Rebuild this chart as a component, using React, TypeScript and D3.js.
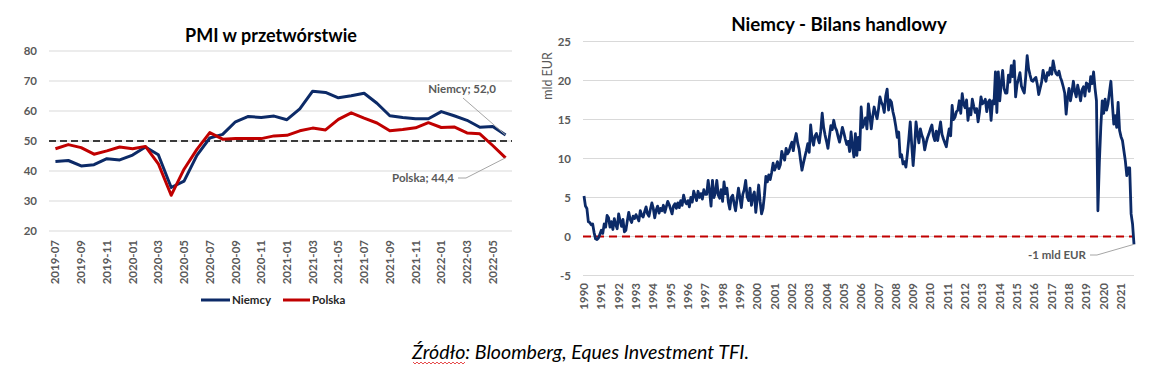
import React from "react";
import * as d3 from "d3";

// ---------- Left chart: PMI w przetwórstwie ----------
const pmiMonths = [
  "2019-07", "2019-08", "2019-09", "2019-10", "2019-11", "2019-12",
  "2020-01", "2020-02", "2020-03", "2020-04", "2020-05", "2020-06",
  "2020-07", "2020-08", "2020-09", "2020-10", "2020-11", "2020-12",
  "2021-01", "2021-02", "2021-03", "2021-04", "2021-05", "2021-06",
  "2021-07", "2021-08", "2021-09", "2021-10", "2021-11", "2021-12",
  "2022-01", "2022-02", "2022-03", "2022-04", "2022-05", "2022-06",
];
const pmiNiemcy = [
  43.2, 43.5, 41.7, 42.1, 44.1, 43.7,
  45.3, 48.0, 45.4, 34.5, 36.6, 45.2,
  51.0, 52.2, 56.4, 58.2, 57.8, 58.3,
  57.1, 60.7, 66.6, 66.2, 64.4, 65.1,
  65.9, 62.6, 58.4, 57.8, 57.4, 57.4,
  59.8, 58.4, 56.9, 54.6, 54.8, 52.0,
];
const pmiPolska = [
  47.4, 48.8, 47.8, 45.6, 46.7, 48.0,
  47.4, 48.2, 42.4, 31.9, 40.6, 47.2,
  52.8, 50.6, 50.8, 50.8, 50.8, 51.7,
  51.9, 53.4, 54.3, 53.7, 57.2, 59.4,
  57.6, 56.0, 53.4, 53.8, 54.4, 56.1,
  54.5, 54.7, 52.7, 52.4, 48.5, 44.4,
];
const pmiTickLabels = pmiMonths.filter((_, i) => i % 2 === 0);
const pmiYTicks = [20, 30, 40, 50, 60, 70, 80];
const pmiThreshold = 50;

// ---------- Right chart: Niemcy - Bilans handlowy (mld EUR), monthly from 1990-08 ----------
const tradeBalance = [
  // 1990 (Aug-Dec)
  5.2, 3.9, 3.6, 1.9, 1.8,
  // 1991
  1.5, 1.6, 0.5, -0.3, -0.4, -0.2, 0.3, 0.8, 0.4, 1.6, 1.2, 2.7,
  // 1992
  2.4, 1.2, 1.9, 0.9, 2.3, 1.5, 1.0, 2.9, 2.0, 1.3, 2.2, 0.6,
  // 1993
  0.8, 2.0, 3.1, 2.2, 1.8, 2.6, 2.3, 2.8, 2.4, 2.0, 3.3, 2.7,
  // 1994
  2.5, 3.2, 3.8, 2.9, 2.6, 3.5, 4.3, 3.6, 2.4, 3.4, 3.9, 3.0,
  // 1995
  3.6, 3.3, 4.0, 3.1, 3.8, 4.5, 4.1, 3.5, 2.9, 3.9, 4.2, 3.6,
  // 1996
  4.3, 3.7, 4.6, 4.0, 5.3, 4.5, 4.2, 4.6, 3.8, 5.0, 4.4, 5.8,
  // 1997
  5.2, 4.6, 5.8, 5.0, 5.5, 4.8, 6.0, 5.4, 5.4, 7.2, 5.8, 3.9,
  // 1998
  7.2, 5.0, 5.6, 7.2, 5.3, 4.9, 6.0, 4.5, 7.0, 5.5, 6.2, 4.4,
  // 1999
  3.5, 5.0, 5.3, 4.2, 3.3, 4.8, 6.2, 5.0, 3.7, 5.4, 6.0, 7.2,
  // 2000
  5.1, 4.6, 6.2, 4.0, 5.2, 5.7, 3.1, 4.8, 6.6, 4.5, 2.9, 3.6,
  // 2001
  5.3, 7.7, 7.0, 7.9, 7.3, 8.2, 9.4, 8.5, 9.0, 9.6, 8.7, 9.2,
  // 2002
  10.9, 10.2, 9.8, 11.3, 10.6, 10.9, 11.6, 12.1, 11.0, 12.4, 13.2, 12.0,
  // 2003
  11.2, 9.8, 8.5, 9.4, 10.2, 11.0, 11.9, 10.8, 14.3, 12.5, 11.7, 12.9,
  // 2004
  13.2, 12.6, 12.0, 13.5, 15.8, 14.0, 13.0, 12.2, 11.3, 12.8, 14.2, 13.7,
  // 2005
  14.9, 14.0, 13.6, 12.8, 12.1, 13.0, 14.0, 13.3, 12.5, 11.8, 12.2, 10.9,
  // 2006
  13.4, 11.5, 10.2, 13.2, 10.4, 12.7, 11.1, 16.6, 14.0, 14.5, 15.2, 13.8,
  // 2007
  17.0, 15.5, 13.8, 15.4, 16.6, 15.8, 15.1, 16.3, 17.9, 17.2, 16.8, 15.9,
  // 2008
  18.0, 18.9, 16.2, 17.5, 17.2, 16.0, 15.2, 14.1, 12.7, 13.4, 10.2, 10.5,
  // 2009
  9.3, 9.6, 8.9, 10.6, 12.5, 14.7, 11.8, 9.1, 11.5, 14.7, 13.2, 12.0,
  // 2010
  13.8, 13.0, 12.5, 11.1, 12.0, 12.7, 13.2, 13.8, 14.3, 12.9, 12.3, 13.5,
  // 2011
  12.3, 13.5, 14.7, 13.1, 12.5, 12.0, 11.5, 12.8, 13.8, 12.9, 16.8, 15.0,
  // 2012
  15.3, 16.0, 16.2, 17.4, 15.8, 18.3, 17.0, 16.5, 17.5, 14.9, 16.4, 15.6,
  // 2013
  17.6, 16.7, 15.9, 16.4, 14.7, 16.0, 17.9, 17.0, 17.2, 17.6, 16.0, 17.2,
  // 2014
  17.5, 14.9, 17.4, 17.0, 21.1, 15.9, 21.1, 17.4, 19.6, 21.3, 19.0, 18.4,
  // 2015
  18.4, 20.7, 19.8, 21.9, 20.5, 22.5, 17.9, 19.5, 20.2, 21.0, 19.3, 18.8,
  // 2016
  18.4, 20.5, 23.2, 21.5, 20.7, 20.0, 19.9, 20.2, 20.4, 19.5, 18.2, 19.0,
  // 2017
  19.8, 21.3, 20.4, 19.9, 21.0, 20.7, 21.6, 20.8, 22.5, 21.5, 20.9, 20.7,
  // 2018
  21.2, 20.4, 19.9, 19.2, 18.4, 15.7, 17.8, 19.0, 17.4, 18.5, 19.9, 18.6,
  // 2019
  17.9, 19.4, 18.5, 17.4, 18.8, 19.2, 18.0, 19.7, 19.5, 18.6, 20.5, 19.6,
  // 2020
  21.1, 19.0, 17.4, 3.3, 9.5, 14.0, 17.4, 15.8, 17.6, 16.2, 17.0, 18.5,
  // 2021
  19.9, 17.0, 14.4, 15.5, 14.0, 17.2, 13.6, 12.8, 12.3, 11.0, 9.7, 7.8,
  // 2022 (Jan-May)
  8.8, 8.8, 2.9, 1.6, -1.0,
];
const tradeYearLabels = [
  "1990", "1991", "1992", "1993", "1994", "1995", "1996", "1997",
  "1998", "1999", "2000", "2001", "2002", "2003", "2004", "2005",
  "2006", "2007", "2008", "2009", "2010", "2011", "2012", "2013",
  "2014", "2015", "2016", "2017", "2018", "2019", "2020", "2021",
];
const tradeYTicks = [-5, 0, 5, 10, 15, 20, 25];

const FONT = "Lato, 'Open Sans', sans-serif";
const NAVY = "#0c2a67";
const RED = "#c00000";
const GRID = "#d9d9d9";
const LABEL = "#595959";

export default function App() {
  // Left scales
  const lx = d3.scalePoint<string>().domain(pmiMonths).range([49, 512]).padding(0.5);
  const ly = d3.scaleLinear().domain([20, 80]).range([231, 51]);
  const pmiLine = d3
    .line<number>()
    .x((_, i) => lx(pmiMonths[i]) as number)
    .y((d) => ly(d));

  // Right scales
  const rx = d3.scaleLinear().domain([0, tradeBalance.length - 1]).range([584, 1134]);
  const ry = d3.scaleLinear().domain([-5, 25]).range([275.5, 41.5]);
  const tradeLine = d3
    .line<number>()
    .x((_, i) => rx(i))
    .y((d) => ry(d));

  const lastI = pmiMonths.length - 1;
  const nX = lx(pmiMonths[lastI]) as number;
  const nY = ly(pmiNiemcy[lastI]);
  const pY = ly(pmiPolska[lastI]);
  const tLast = tradeBalance.length - 1;
  const tX = rx(tLast);
  const tY = ry(tradeBalance[tLast]);

  // spell-check style wavy underline under "Źródło"
  const wavePts: [number, number][] = [];
  for (let k = 0, x = 413; x <= 465; k++, x += 2) wavePts.push([x, k % 2 === 0 ? 362 : 364]);
  const wavePath = d3.line()(wavePts);

  return (
    <svg
      width={1170}
      height={377}
      style={{ position: "absolute", left: 0, top: 0, background: "#fff" }}
      fontFamily={FONT}
    >
      <rect x={0} y={0} width={1170} height={377} fill="#fff" />

      {/* ===== Left chart ===== */}
      <text x={271} y={42} textAnchor="middle" fontSize={18} fontWeight={700} fill="#000">
        PMI w przetwórstwie
      </text>
      {pmiYTicks.map((t) => (
        <g key={"ly" + t}>
          <line x1={49} x2={512} y1={ly(t)} y2={ly(t)} stroke={GRID} strokeWidth={1} />
          <text x={37} y={ly(t)} dy="0.35em" textAnchor="end" fontSize={11.5} fontWeight={700} fill={LABEL}>
            {t}
          </text>
        </g>
      ))}
      {pmiTickLabels.map((m) => (
        <text
          key={"lx" + m}
          transform={`translate(${lx(m)},240) rotate(-90)`}
          textAnchor="end"
          dy="0.35em"
          fontSize={11.5}
          fontWeight={700}
          fill={LABEL}
        >
          {m}
        </text>
      ))}
      <line
        x1={49}
        x2={512}
        y1={ly(pmiThreshold)}
        y2={ly(pmiThreshold)}
        stroke="#000"
        strokeWidth={1.6}
        strokeDasharray="7,4"
      />
      <path d={pmiLine(pmiNiemcy) || ""} fill="none" stroke={NAVY} strokeWidth={3} strokeLinejoin="round" />
      <path d={pmiLine(pmiPolska) || ""} fill="none" stroke={RED} strokeWidth={3} strokeLinejoin="round" />

      {/* annotations */}
      <polyline points={`463,98 ${nX},${nY}`} fill="none" stroke="#a6a6a6" strokeWidth={1} />
      <text x={496} y={93} textAnchor="end" fontSize={11.5} fontWeight={700} fill={LABEL}>
        Niemcy; 52,0
      </text>
      <polyline points={`458,178 466,178 ${nX},${pY}`} fill="none" stroke="#a6a6a6" strokeWidth={1} />
      <text x={454} y={182} textAnchor="end" fontSize={11.5} fontWeight={700} fill={LABEL}>
        Polska; 44,4
      </text>

      {/* legend */}
      <line x1={201} x2={230} y1={300} y2={300} stroke={NAVY} strokeWidth={3} />
      <text x={232} y={300} dy="0.35em" fontSize={11.5} fontWeight={700} fill="#262626">
        Niemcy
      </text>
      <line x1={283} x2={310} y1={300} y2={300} stroke={RED} strokeWidth={3} />
      <text x={312} y={300} dy="0.35em" fontSize={11.5} fontWeight={700} fill="#262626">
        Polska
      </text>

      {/* ===== Right chart ===== */}
      <text x={839} y={31} textAnchor="middle" fontSize={18.8} fontWeight={700} fill="#000">
        Niemcy - Bilans handlowy
      </text>
      {tradeYTicks.map((t) => (
        <g key={"ry" + t}>
          <line x1={583} x2={1134} y1={ry(t)} y2={ry(t)} stroke={GRID} strokeWidth={1} />
          <text x={571} y={ry(t)} dy="0.35em" textAnchor="end" fontSize={11.5} fontWeight={700} fill={LABEL}>
            {t}
          </text>
        </g>
      ))}
      <text
        transform="translate(548,76) rotate(-90)"
        textAnchor="middle"
        dy="0.35em"
        fontSize={12.5}
        fill={LABEL}
      >
        mld EUR
      </text>
      {tradeYearLabels.map((y, k) => (
        <text
          key={"rx" + y}
          transform={`translate(${rx(k * 12)},283) rotate(-90)`}
          textAnchor="end"
          dy="0.35em"
          fontSize={11.5}
          fontWeight={700}
          fill={LABEL}
        >
          {y}
        </text>
      ))}
      <line x1={583} x2={1134} y1={ry(0)} y2={ry(0)} stroke={RED} strokeWidth={2} strokeDasharray="8,5" />
      <path d={tradeLine(tradeBalance) || ""} fill="none" stroke={NAVY} strokeWidth={2.8} strokeLinejoin="round" />
      <polyline points={`1090,255 1097,255 ${tX},${tY}`} fill="none" stroke="#a6a6a6" strokeWidth={1} />
      <text x={1086} y={255} dy="0.35em" textAnchor="end" fontSize={11.5} fontWeight={700} fill={LABEL}>
        -1 mld EUR
      </text>

      {/* ===== Source ===== */}
      <text x={412} y={359} fontSize={19.6} fontStyle="italic" fill="#000">
        Źródło: Bloomberg, Eques Investment TFI.
      </text>
      <path d={wavePath || ""} fill="none" stroke="#e02020" strokeWidth={0.8} />
    </svg>
  );
}
